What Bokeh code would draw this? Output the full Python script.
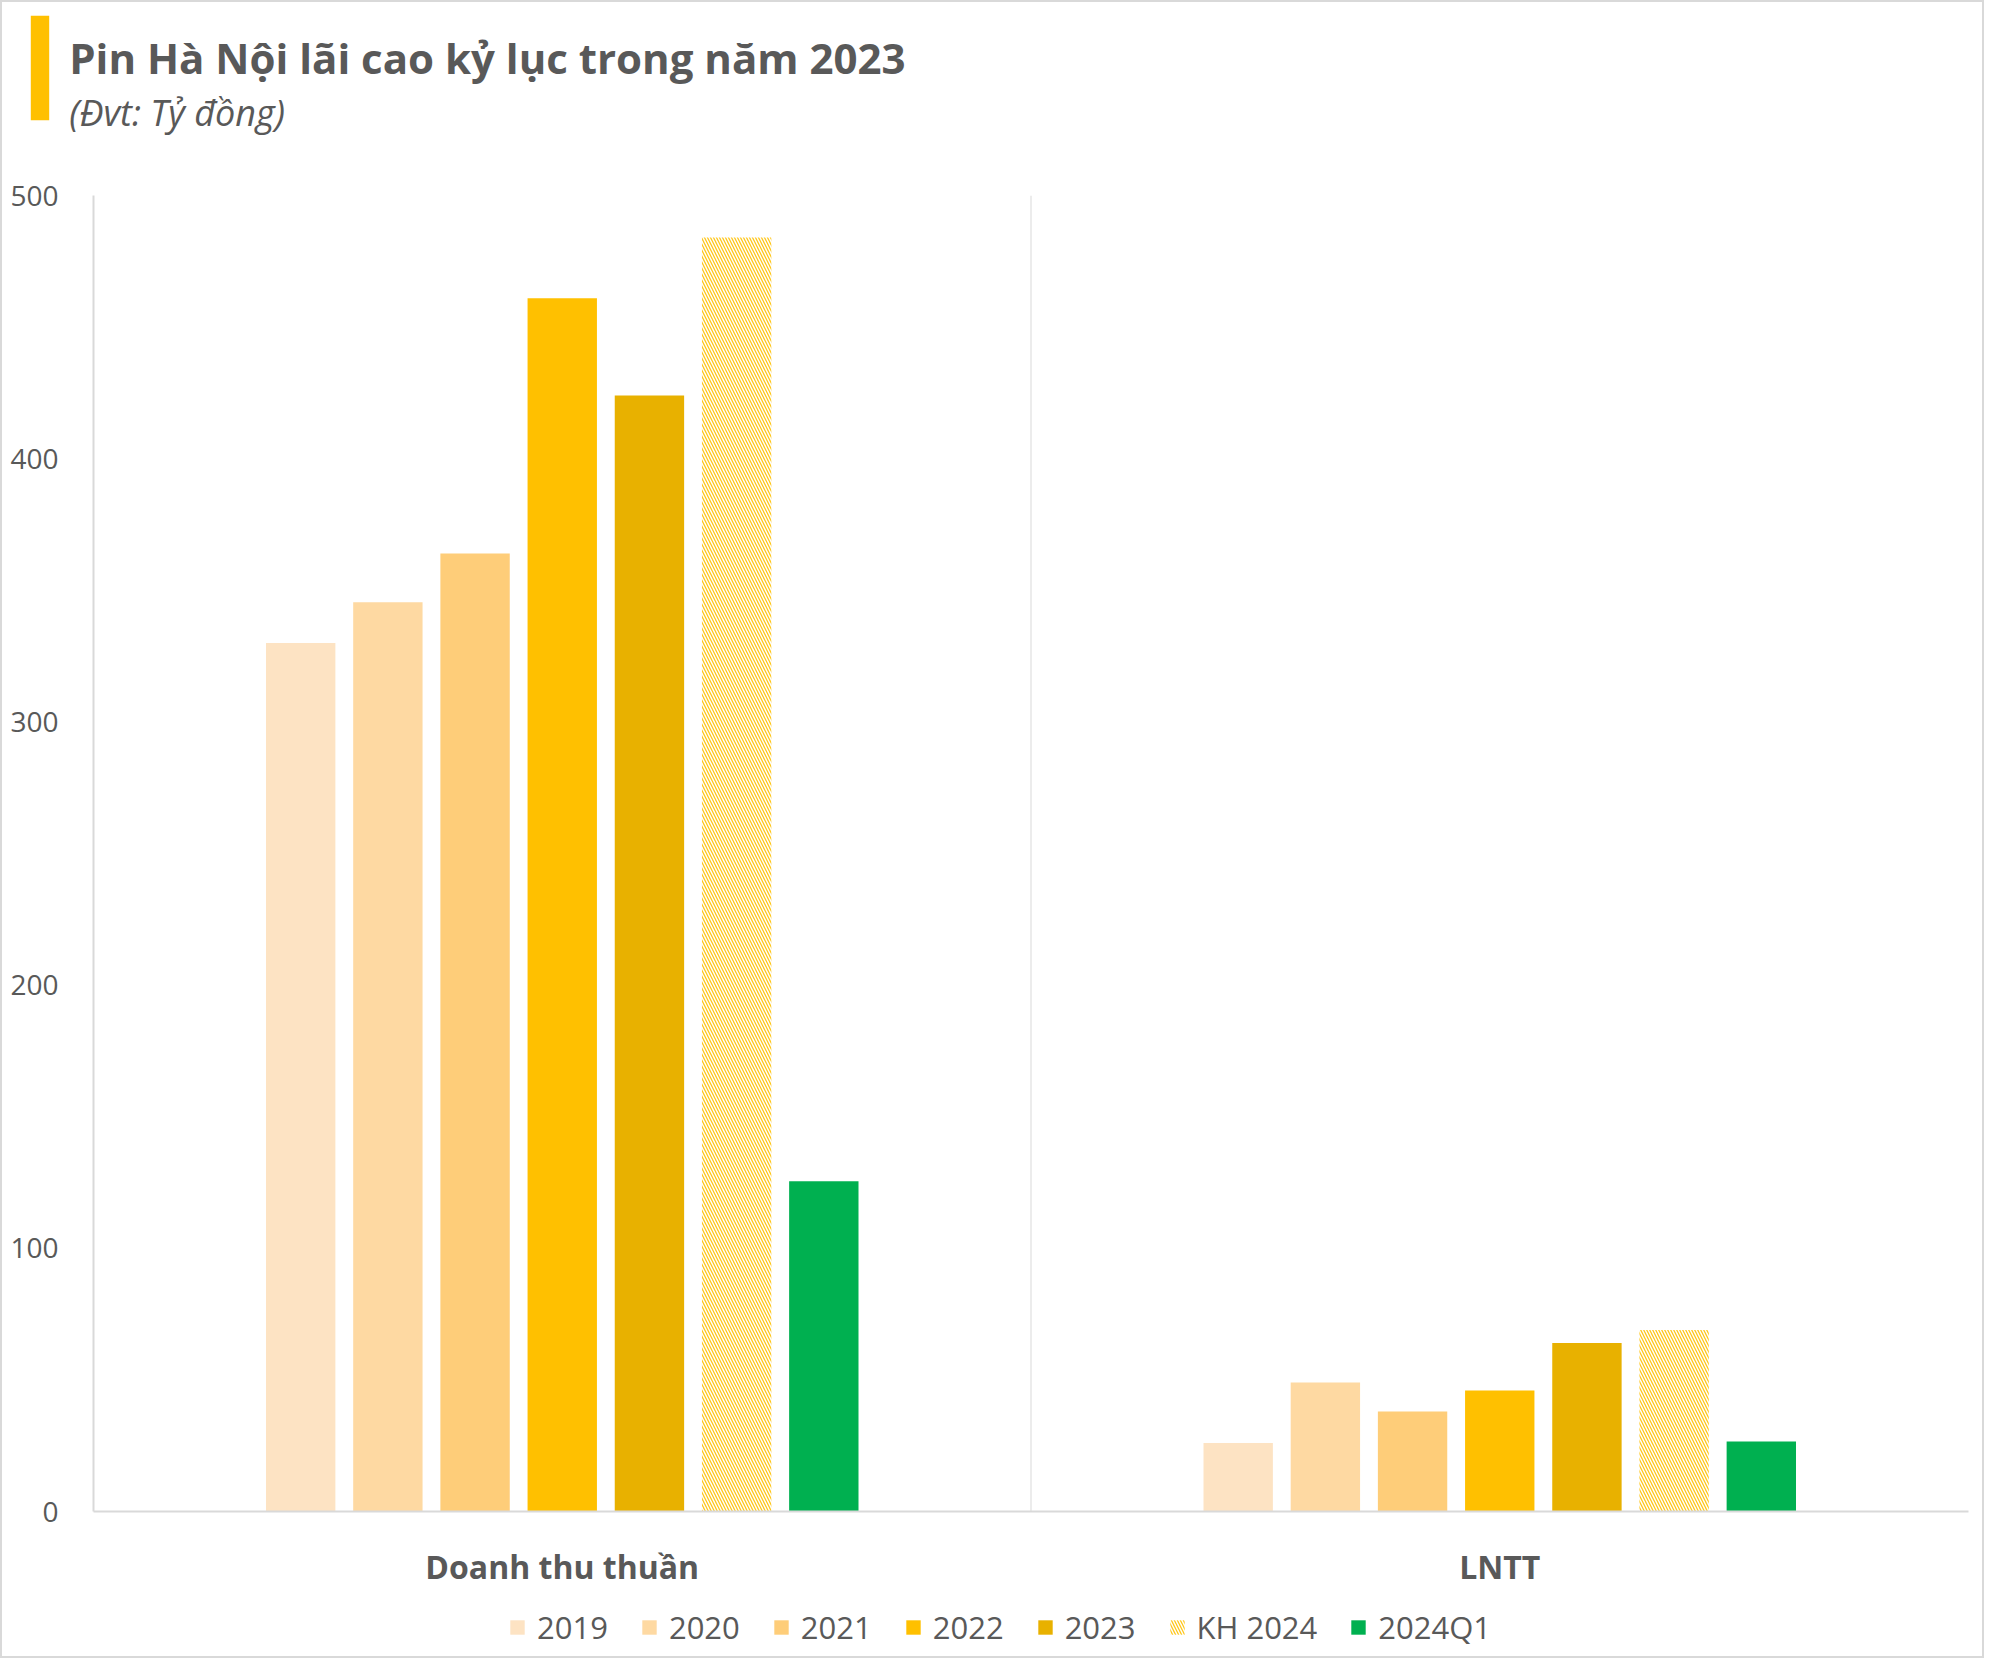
from bokeh.plotting import figure
from bokeh.layouts import column
from bokeh.models import (FactorRange, Range1d, Span, Legend, LegendItem,
                          ColumnDataSource, FixedTicker)
from bokeh.core.properties import value
from bokeh.transform import dodge
from bokeh.embed import file_html
from bokeh.resources import INLINE

# ---- data ----
categories = ["Doanh thu thuần", "LNTT"]
series_names = ["2019", "2020", "2021", "2022", "2023", "KH 2024", "2024Q1"]
v2019 = [330, 26]
v2020 = [345.5, 49]
v2021 = [364, 38]
v2022 = [461, 46]
v2023 = [424, 64]
vkh2024 = [484, 69]
v2024q1 = [125.5, 26.6]
y_ticks = [0, 100, 200, 300, 400, 500]
title_text = "Pin Hà Nội lãi cao kỷ lục trong năm 2023"
subtitle_text = "(Đvt: Tỷ đồng)"

series_values = [v2019, v2020, v2021, v2022, v2023, vkh2024, v2024q1]
colors = ["#FDE3C3", "#FED9A2", "#FECD79", "#FFC000", "#E8B100", "#FFC000", "#00B050"]

FONT = "Open Sans"
GRAY = "#595959"
W = 1980
H_HEAD, H_MAIN, H_FOOT = 173, 1415, 66


def bare(fig):
    fig.xaxis.visible = False
    fig.yaxis.visible = False
    fig.xgrid.visible = False
    fig.ygrid.visible = False
    fig.outline_line_color = None
    fig.min_border = 0


# ---- header ----
head = figure(width=W, height=H_HEAD, x_range=Range1d(0, W), y_range=Range1d(H_HEAD, 0),
              output_backend="svg", toolbar_location=None, frame_align=False)
bare(head)
head.quad(left=[28.3], right=[46.7], top=[13.3], bottom=[117.7], fill_color="#FFC000", line_color=None)
head.text(x=[66.7], y=[55], text=[title_text], text_font=value(FONT), text_font_size="42px",
          text_font_style="bold", text_color=GRAY, text_baseline="alphabetic")
head.text(x=[66.7], y=[110], text=[subtitle_text], text_font=value(FONT), text_font_size="36px",
          text_font_style="italic", text_color=GRAY, text_baseline="alphabetic")

# ---- main chart ----
p = figure(width=W, height=H_MAIN,
           x_range=FactorRange(factors=categories, range_padding=0),
           y_range=Range1d(0, 500),
           output_backend="svg", toolbar_location=None, frame_align=False,
           min_border_left=91, min_border_right=14,
           min_border_top=20, min_border_bottom=77)

pitch = 0.093
bar_w = 0.074
hatch_kw = dict(fill_color="white", hatch_pattern="\\", hatch_scale=6,
                hatch_weight=1.3, hatch_alpha=0.9)
for i, (name, vals, col) in enumerate(zip(series_names, series_values, colors)):
    src = ColumnDataSource(dict(cat=categories, val=vals))
    off = (i - 3) * pitch
    if name == "KH 2024":
        p.vbar(x=dodge("cat", off, range=p.x_range), top="val", width=bar_w,
               source=src, line_color=None, hatch_color=col, **hatch_kw)
    else:
        p.vbar(x=dodge("cat", off, range=p.x_range), top="val", width=bar_w,
               source=src, fill_color=col, line_color=None)

p.add_layout(Span(location=1, dimension="height", line_color="#d9d9d9", line_width=1))

p.xgrid.visible = False
p.ygrid.visible = False
p.outline_line_color = None

p.xaxis.axis_line_color = "#d9d9d9"
p.xaxis.axis_line_width = 2
p.xaxis.major_tick_line_color = None
p.xaxis.minor_tick_line_color = None
p.xaxis.major_label_text_font = FONT
p.xaxis.major_label_text_font_size = "32px"
p.xaxis.major_label_text_font_style = "bold"
p.xaxis.major_label_text_color = GRAY
p.xaxis.major_label_standoff = 27

p.yaxis.ticker = FixedTicker(ticks=y_ticks)
p.yaxis.axis_line_color = "#d9d9d9"
p.yaxis.axis_line_width = 2
p.yaxis.major_tick_line_color = None
p.yaxis.minor_tick_line_color = None
p.yaxis.major_label_text_font = FONT
p.yaxis.major_label_text_font_size = "28px"
p.yaxis.major_label_text_color = GRAY
p.yaxis.major_label_standoff = 29

# ---- footer legend ----
foot = figure(width=W, height=H_FOOT, x_range=Range1d(0, 1), y_range=Range1d(0, 1),
              output_backend="svg", toolbar_location=None, frame_align=False)
bare(foot)
items = []
for name, col in zip(series_names, colors):
    # placeholder outside the visible range; only its legend swatch is seen
    dummy = ColumnDataSource(dict(x=[-10], top=[0]))
    if name == "KH 2024":
        r = foot.vbar(x="x", top="top", width=0.1, source=dummy, line_color=None,
                      hatch_color=col, **hatch_kw)
    else:
        r = foot.vbar(x="x", top="top", width=0.1, source=dummy, fill_color=col, line_color=None)
    items.append(LegendItem(label=name, renderers=[r]))

legend = Legend(items=items, orientation="horizontal", location=(506, 8),
                border_line_color=None, background_fill_alpha=0,
                label_text_font=FONT, label_text_font_size="31px",
                label_text_color=GRAY, glyph_width=18, glyph_height=18,
                label_standoff=11, spacing=32, padding=4, margin=0)
foot.add_layout(legend, "center")

layout = column(head, p, foot, spacing=0,
                styles={"border": "2px solid #d9d9d9"})
open("out.html", "w").write(file_html(layout, INLINE))
